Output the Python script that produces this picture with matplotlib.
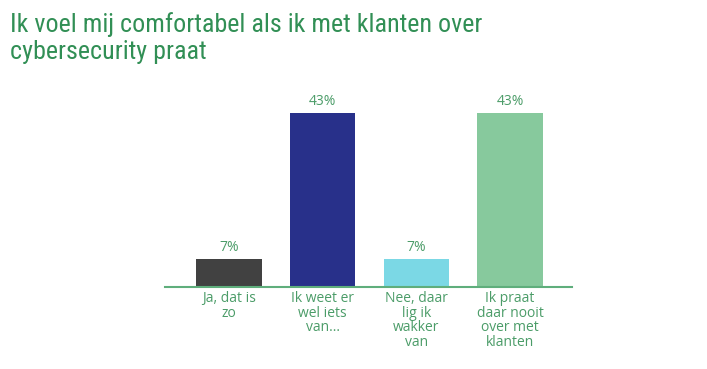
import matplotlib
matplotlib.use("Agg")
import matplotlib.pyplot as plt

plt.rcParams["font.family"] = ["Open Sans", "DejaVu Sans"]
TITLE_FONTS = ["Roboto Condensed", "Open Sans", "DejaVu Sans"]

categories = ["Ja, dat is\nzo", "Ik weet er\nwel iets\nvan...", "Nee, daar\nlig ik\nwakker\nvan",
              "Ik praat\ndaar nooit\nover met\nklanten"]
values = [7, 43, 7, 43]
colors = ["#414141", "#28308a", "#7bd8e5", "#87c99d"]

TITLE = "Ik voel mij comfortabel als ik met klanten over\ncybersecurity praat"
TITLEC = "#318f55"
TEXTC = "#4b9c68"
AXC = "#5fae7c"

fig = plt.figure(figsize=(7.07, 3.69), dpi=100)
ax = fig.add_axes([165 / 707, 1 - 287 / 369, (572 - 165) / 707, 202 / 369])
x = range(len(values))
ax.bar(x, values, width=0.70, color=colors, zorder=2)
for xi, v in zip(x, values):
    ax.annotate(f"{v}%", (xi, v), xytext=(0, 3), textcoords="offset points",
                ha="center", va="bottom", color=TEXTC, fontsize=10)
ax.set_xlim(-0.68, 3.66)
ax.set_ylim(0, 50)
ax.set_xticks(list(x))
ax.set_xticklabels(categories, color=TEXTC, fontsize=10, linespacing=0.95)
ax.tick_params(axis="x", length=0, pad=3)
ax.set_yticks([])
for s in ["top", "right", "left"]:
    ax.spines[s].set_visible(False)
ax.spines["bottom"].set_color(AXC)
ax.spines["bottom"].set_linewidth(1.5)

fig.text(10 / 707, 1 - 12 / 369, TITLE, ha="left", va="top", color=TITLEC,
         fontsize=18.7, family=TITLE_FONTS, linespacing=1.15)

fig.savefig("out.png", dpi=100)
